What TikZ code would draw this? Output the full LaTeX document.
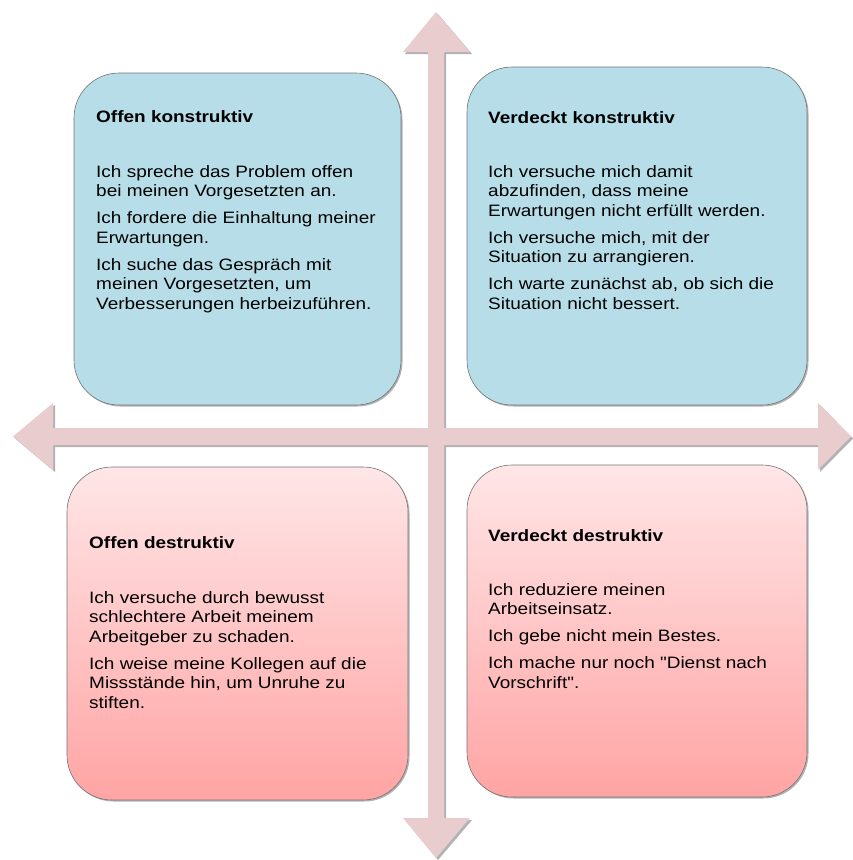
\documentclass[tikz,border=0pt]{standalone}
\usepackage{fontspec}
\setmainfont[FakeStretch=1.15, Ligatures=TeXOff]{Liberation Sans}
\usetikzlibrary{shadows}

\definecolor{cardblue}{HTML}{B7DEE8}
\definecolor{pinktop}{HTML}{FFE6E7}
\definecolor{pinkbot}{HTML}{FFA4A4}
\definecolor{axisfill}{HTML}{E8CCCE}

\tikzset{
  card/.style={draw=black!55, line width=0.6pt, rounded corners=45pt,
    inner sep=0pt,
    drop shadow={shadow xshift=1.5pt, shadow yshift=-1.5pt, opacity=0.3, fill=black}},
  bluecard/.style={card, fill=cardblue},
  pinkcard/.style={card, top color=pinktop, bottom color=pinkbot},
  cardtitle/.style={anchor=base west, inner sep=0pt,
    font=\bfseries\fontsize{16.5}{19.5}\selectfont},
  cardbody/.style={anchor=north west, inner sep=0pt, align=left,
    font=\fontsize{16.5}{19.5}\selectfont},
  axes/.style={fill=axisfill, draw=none,
    drop shadow={shadow xshift=2pt, shadow yshift=-2pt, opacity=0.3, fill=black}}
}

\begin{document}
\begin{tikzpicture}[x=1pt,y=-1pt]
\useasboundingbox (0,0) rectangle (852,860);

% quadrant cards
\node[bluecard, minimum width=327pt, minimum height=332pt] (tl) at (237.5,239) {};
\node[bluecard, minimum width=340pt, minimum height=338pt] (tr) at (637,236) {};
\node[pinkcard, minimum width=341pt, minimum height=333pt] (bl) at (237.5,633.5) {};
\node[pinkcard, minimum width=340pt, minimum height=332pt] (br) at (637,631) {};

% double-headed cross of axes
\path[axes] (436,12) -- (470,52) -- (444,52) -- (444,428) -- (818,428)
  -- (818,403) -- (851,436.5) -- (818,470) -- (818,445) -- (444,445)
  -- (444,818) -- (470,818) -- (436,858) -- (403,818) -- (428,818)
  -- (428,445) -- (53,445) -- (53,470) -- (13,436.5) -- (53,403)
  -- (53,428) -- (428,428) -- (428,52) -- (403,52) -- cycle;

% top left
\node[cardtitle] (tlh) at (96,122) {Offen konstruktiv};
\node[cardbody] (tlb) at (96,165.2) {Ich spreche das Problem offen\\
bei meinen Vorgesetzten an.\\[7.5pt]
Ich fordere die Einhaltung meiner\\
Erwartungen.\\[7.5pt]
Ich suche das Gespräch mit\\
meinen Vorgesetzten, um\\
Verbesserungen herbeizuführen.};

% top right
\node[cardtitle] (trh) at (488,123) {Verdeckt konstruktiv};
\node[cardbody] (trb) at (488,165.2) {Ich versuche mich damit\\
abzufinden, dass meine\\
Erwartungen nicht erfüllt werden.\\[7.5pt]
Ich versuche mich, mit der\\
Situation zu arrangieren.\\[7.5pt]
Ich warte zunächst ab, ob sich die\\
Situation nicht bessert.};

% bottom left
\node[cardtitle] (blh) at (89,548) {Offen destruktiv};
\node[cardbody] (blb) at (89,591.2) {Ich versuche durch bewusst\\
schlechtere Arbeit meinem\\
Arbeitgeber zu schaden.\\[7.5pt]
Ich weise meine Kollegen auf die\\
Missstände hin, um Unruhe zu\\
stiften.};

% bottom right
\node[cardtitle] (brh) at (488,541) {Verdeckt destruktiv};
\node[cardbody] (brb) at (488,583.2) {Ich reduziere meinen\\
Arbeitseinsatz.\\[7.5pt]
Ich gebe nicht mein Bestes.\\[7.5pt]
Ich mache nur noch "Dienst nach\\
Vorschrift".};
\end{tikzpicture}
\end{document}
